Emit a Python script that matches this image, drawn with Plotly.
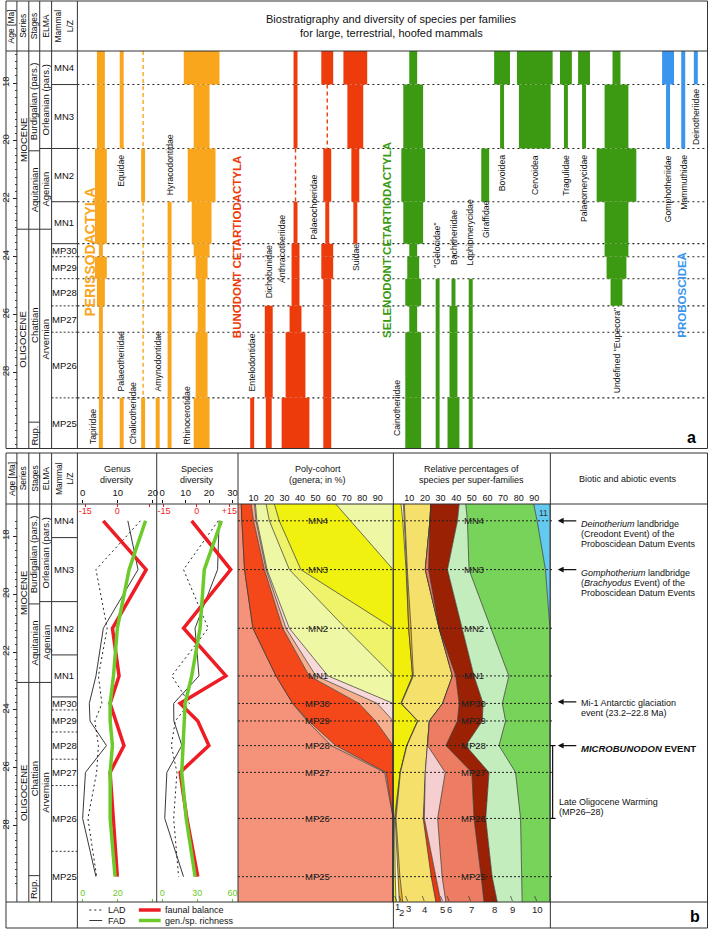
import plotly.graph_objects as go

W, H = 710, 930
FONT = "Liberation Sans, Arial, Helvetica, sans-serif"


def px(x):
    return x / W


def py(y):
    return 1 - y / H


# ------------------------------------------------------------------ data
zones = ["MN4", "MN3", "MN2", "MN1", "MP30", "MP29", "MP28", "MP27", "MP26", "MP25"]
zone_bounds = [16.89, 18.05, 20.26, 22.10, 23.55, 24.00, 24.76, 25.70, 26.61, 28.88, 30.63]
age_ticks = [18, 20, 22, 24, 26, 28]

series_names = ["MIOCENE", "OLIGOCENE"]
series_bounds = [16.89, 23.05, 30.63]
stage_names = ["Burdigalian (pars.)", "Aquitanian", "Chattian", "Rup."]
stage_bounds = [16.89, 20.34, 23.05, 29.72, 30.63]
elma_names = ["Orleanian (pars.)", "Agenian", "Arvernian"]
elma_bounds = [16.89, 20.26, 23.05, 30.63]

# species per family and zone (MN4 ... MP25); 0 = not recorded
tapiridae = [2, 2, 3, 3, 1, 3, 2, 1, 1, 1]
equidae = [1, 1, 0, 0, 0, 0, 0, 0, 0, 0]
palaeotheriidae = [0, 0, 0, 0, 0, 0, 0, 0, 0, 1]
chalicotheriidae = [0, 0, 1, 0, 0, 0, 0, 0, 0, 1]
amynodontidae = [0, 0, 0, 0, 0, 0, 0, 0, 0, 1]
hyracodontidae = [0, 0, 0, 1, 1, 1, 1, 1, 1, 1]
rhinocerotidae = [9, 4, 7, 5, 4, 3, 2, 2, 3, 4]
entelodontidae = [0, 0, 0, 0, 0, 0, 0, 0, 0, 1]
dichobunidae = [0, 0, 0, 0, 0, 0, 0, 2, 2, 1.5]
anthracotheriidae = [1, 1, 0, 1, 2, 2, 2, 3, 5, 7]
palaeochoeridae = [3, 0, 2, 1, 3, 3, 2, 2, 2, 2]
suidae = [6, 4, 2, 1, 0, 0, 0, 0, 0, 0]
cainotheriidae = [2, 5, 6, 5, 2, 3, 4, 2, 4, 4]
gelocidae = [0, 0, 0, 0, 0, 0, 1, 1, 1, 1]
bachitheriidae = [0, 0, 0, 0, 0, 0, 1, 2, 2, 3]
lophiomerycidae = [0, 0, 0, 0, 0, 0, 1, 1, 1, 1]
giraffidae = [0, 0, 2, 0, 0, 0, 0, 0, 0, 0]
bovoidea = [4, 1, 0, 0, 0, 0, 0, 0, 0, 0]
cervoidea = [9, 8, 0, 0, 0, 0, 0, 0, 0, 0]
tragulidae = [3, 1, 0, 0, 0, 0, 0, 0, 0, 0]
palaeomerycidae = [3, 1, 0, 0, 0, 0, 0, 0, 0, 0]
eupecora = [2, 6, 10, 6, 6, 5, 3, 0, 0, 0]
gomphotheriidae = [3, 1, 0, 0, 0, 0, 0, 0, 0, 0]
mammuthidae = [1, 1, 0, 0, 0, 0, 0, 0, 0, 0]
deinotheriidae = [1, 0, 0, 0, 0, 0, 0, 0, 0, 0]

family_names = ["Tapiridae", "Equidae", "Palaeotheriidae", "Chalicotheriidae", "Amynodontidae",
                "Hyracodontidae", "Rhinocerotidae", "Entelodontidae", "Dichobunidae",
                "Anthracotheriidae", "Palaeochoeridae", "Suidae", "Cainotheriidae",
                "\"Gelocidae\"", "Bachitheriidae", "Lophiomerycidae", "Giraffidae", "Bovoidea",
                "Cervoidea", "Tragulidae", "Palaeomerycidae", "Undefined \"Eupecora\"",
                "Gomphotheriidae", "Mammuthidae", "Deinotheriidae"]
family_species = [tapiridae, equidae, palaeotheriidae, chalicotheriidae, amynodontidae,
                  hyracodontidae, rhinocerotidae, entelodontidae, dichobunidae,
                  anthracotheriidae, palaeochoeridae, suidae, cainotheriidae, gelocidae,
                  bachitheriidae, lophiomerycidae, giraffidae, bovoidea, cervoidea, tragulidae,
                  palaeomerycidae, eupecora, gomphotheriidae, mammuthidae, deinotheriidae]
family_group = ["P"] * 7 + ["B"] * 5 + ["S"] * 10 + ["X"] * 3
# range-through (dashed) occurrences: family, first zone, last zone
range_through = [("Chalicotheriidae", "MN4", "MN3"), ("Chalicotheriidae", "MN1", "MP26"),
                 ("Anthracotheriidae", "MN2", "MN2"), ("Palaeochoeridae", "MN3", "MN3")]

group_names = ["PERISSODACTYLA", "BUNODONT CETARTIODACTYLA", "SELENODONT CETARTIODACTYLA", "PROBOSCIDEA"]

# bottom panel: values at zone mid-points (MN4 ... MP25)
genus_lad = [16.5, 3.8, 7.0, 4.5, 5.5, 3.5, 4.5, 4.0, 1.5, 4.0]
genus_fad = [12.9, 15.8, 5.9, 3.8, 1.9, 2.1, 6.8, 0.8, 0.0, 3.8]
genus_balance = [-6.6, 13.5, -2.3, 0.8, -3.4, -0.7, 3.1, -3.4, -1.9, 0.0]
genus_richness = [35.9, 26.5, 19.8, 17.6, 15.7, 15.7, 17.0, 15.7, 15.7, 18.5]
species_lad = [23.9, 9.1, 19.6, 4.1, 11.6, 5.6, 3.9, 6.3, 4.9, 7.0]
species_fad = [24.3, 23.6, 14.0, 15.7, 4.9, 5.0, 8.4, 2.0, 1.1, 9.1]
species_balance = [-2.3, 15.6, -6.0, 13.4, -7.6, 0.5, 5.6, -7.6, -4.5, 0.5]
species_richness = [50.5, 35.9, 32.3, 25.2, 19.6, 19.0, 18.2, 16.7, 20.5, 28.1]

# poly-cohort (genera, %) at: top edge, MN4 ... MP25 mid-points, bottom edge
cohort_old = [2.1, 2.5, 4.2, 9.6, 24.5, 35.2, 44.5, 60.0, 94.5, 100, 100, 100]
cohort_thin = [0, 0, 0, 0, 0, 0, 1.0, 3.0, 0.9, 0, 0, 0]
cohort_red = [6.4, 7.5, 12.8, 19.2, 21.4, 42.8, 43.1, 37.0, 4.6, 0, 0, 0]
cohort_peach = [2.1, 1.6, 1.1, 2.1, 4.3, 11.7, 11.4, 0, 0, 0, 0, 0]
cohort_pink = [0.6, 0.6, 0.6, 2.2, 7.8, 10.3, 0, 0, 0, 0, 0, 0]
cohort_mn1 = [6.9, 8.0, 14.4, 36.3, 42.0, 0, 0, 0, 0, 0, 0, 0]
cohort_mn2 = [5.3, 6.4, 7.4, 30.6, 0, 0, 0, 0, 0, 0, 0, 0]
cohort_mn3 = [39.6, 46.0, 59.5, 0, 0, 0, 0, 0, 0, 0, 0, 0]
cohort_mn4 = [37.0, 27.4, 0, 0, 0, 0, 0, 0, 0, 0, 0, 0]

# relative percentages of species per super-family (bands 1..11), same levels
band1 = [4.7, 5.8, 7.9, 9.6, 12.1, 4.7, 15.3, 8.3, 4.1, 0.5, 1.0, 1.5]
band2 = [1.5, 1.0, 0.4, 0.0, 0.0, 0.0, 0.0, 0.0, 0.0, 0.5, 1.5, 2.1]
band3 = [0.6, 0.5, 0.4, 1.5, 0.5, 0.2, 0.2, 0.2, 0.2, 0.5, 1.5, 2.2]
band4 = [17.0, 15.9, 11.5, 18.0, 25.0, 26.4, 7.3, 13.2, 15.9, 17.4, 20.0, 21.2]
band5 = [0, 0, 0, 0, 0, 0, 0, 0, 0, 0.7, 3.0, 3.2]
band6 = [0, 0, 0, 0, 0, 0, 0, 0, 12.8, 8.5, 4.0, 3.2]
band7 = [0, 0, 2.1, 0, 2.1, 10.6, 18.0, 11.7, 17.0, 23.3, 25.0, 24.4]
band8 = [18.1, 17.6, 12.1, 14.9, 11.7, 15.3, 15.9, 12.7, 11.0, 7.5, 7.0, 8.5]
band9 = [4.2, 6.4, 13.8, 18.0, 22.3, 12.3, 14.9, 21.3, 17.0, 22.3, 18.8, 15.9]
band10 = [43.5, 44.6, 48.9, 38.0, 26.3, 30.5, 28.4, 32.6, 22.0, 18.8, 18.2, 17.8]
band11 = [10.4, 8.2, 2.9, 0, 0, 0, 0, 0, 0, 0, 0, 0]
band_labels = ["1", "2", "3", "4", "5", "6", "7", "8", "9", "10"]

mi1_age = 23.72

# ------------------------------------------------------------------ layout constants
AGE_TOP, AGE_BOT = zone_bounds[0], zone_bounds[-1]
mids = [(zone_bounds[i] + zone_bounds[i + 1]) / 2 for i in range(len(zones))]
levels = [AGE_TOP] + mids + [AGE_BOT]

group_color = {"P": "#F9A61C", "B": "#EE3B0B", "S": "#3C9A12", "X": "#3A95EF"}
group_label_color = ["#F9A61C", "#EE3B0B", "#3C9A12", "#3A95EF"]
group_label_x = [86, 234, 385, 683.3]
group_label_age = [23.85, 23.67, 23.43, 25.33]
group_label_size = [14, 11.5, 11.5, 11.5]

family_x = [96.7, 117.7, 117.7, 139.3, 154, 166, 198.3, 249.3, 266, 293, 325, 353.3, 411.7,
            436.3, 452.3, 469.7, 484.3, 501.3, 534.3, 565.7, 584, 616.7, 668.7, 684, 696.7]
label_x = [89, 116.7, 116.7, 130, 154, 166, 183.3, 249.3, 265.7, 280, 311.7, 353.3, 396,
           435.7, 452.3, 469.3, 485, 501.3, 534.3, 565, 583.3, 616.7, 668.3, 684, 696.7]
label_age = [30.56, 20.42, 28.72, 30.56, 28.72, 21.94, 30.56, 28.72, 25.51, 24.99, 23.5, 24.57,
             30.28, 24.47, 24.36, 24.36, 23.43, 20.42, 20.42, 20.42, 20.42, 28.79, 20.42, 20.42,
             18.14]
label_anchor = ["bottom", "top", "bottom", "bottom", "bottom", "bottom", "bottom", "bottom",
                "bottom", "bottom", "bottom", "bottom", "bottom", "bottom", "bottom", "bottom",
                "bottom", "top", "top", "top", "top", "bottom", "top", "top", "top"]
SPECIES_PX = 4.0

cohort_colors = ["#F4937A", "#F6A88E", "#F4481B", "#F6B08E", "#F7D9D9", "#EEF7A3",
                 "#EEF36A", "#F1F10F", "#EEF7A3"]
band_colors = ["#F2EE0B", "#FBF8D8", "#F5B117", "#F6E06C", "#E83A12", "#F5CFCF",
               "#EC7D62", "#9A2104", "#C4EDBE", "#78D35A", "#62C9F0"]
band_label_x = [395.5, 400, 406.5, 423.3, 441.7, 448.3, 470, 493.3, 512.3, 536.7]
band_label_y = [906, 912, 908, 909, 909, 909, 909, 909, 909, 909]

RED = "#EE1C25"
GREEN = "#6CCB2A"

shapes = []
annotations = []


def line(x0, y0, x1, y1, xref="paper", yref="paper", color="#333", width=1, dash=None, layer="above"):
    d = dict(type="line", xref=xref, yref=yref, x0=x0, y0=y0, x1=x1, y1=y1,
             line=dict(color=color, width=width), layer=layer)
    if dash:
        d["line"]["dash"] = dash
    shapes.append(d)


def text(x, y, s, size=9, color="#111", angle=0, xa="center", ya="middle",
         xref="paper", yref="paper", **kw):
    annotations.append(dict(x=x, y=y, text=s, xref=xref, yref=yref, showarrow=False,
                            textangle=angle, xanchor=xa, yanchor=ya,
                            font=dict(size=size, color=color, family=FONT), **kw))


fig = go.Figure()

# ------------------------------------------------------------------ panel a: bars
for name, sp, xpos, grp in zip(family_names, family_species, family_x, family_group):
    xs, base, length, width = [], [], [], []
    for i, n in enumerate(sp):
        if n > 0:
            xs.append(xpos)
            base.append(zone_bounds[i])
            length.append(zone_bounds[i + 1] - zone_bounds[i])
            width.append(n * SPECIES_PX)
    fig.add_trace(go.Bar(x=xs, y=length, base=base, width=width,
                         marker=dict(color=group_color[grp], line=dict(width=0)),
                         xaxis="x", yaxis="y", showlegend=False, hoverinfo="skip", name=name))

for fam, z0, z1 in range_through:
    k = family_names.index(fam)
    a0 = zone_bounds[zones.index(z0)]
    a1 = zone_bounds[zones.index(z1) + 1]
    fig.add_trace(go.Scatter(x=[family_x[k], family_x[k]], y=[a0, a1], mode="lines",
                             line=dict(color=group_color[family_group[k]], width=1.4, dash="4px,3px"),
                             xaxis="x", yaxis="y", showlegend=False, hoverinfo="skip"))

for name, lx, la, anc in zip(family_names, label_x, label_age, label_anchor):
    text(lx, la, name, size=8.7, color="#111", angle=-90, ya=anc, xref="x", yref="y")

for g, gx, ga, gc, gs in zip(group_names, group_label_x, group_label_age, group_label_color,
                             group_label_size):
    text(gx, ga, "<b>" + g + "</b>", size=gs, color=gc, angle=-90, xref="x", yref="y")

for b in zone_bounds[1:-1]:
    line(73, b, 708.5, b, xref="x", yref="y", color="#222", width=1.1, dash="2px,3px", layer="below")

text(px(390), py(18.5), "Biostratigraphy and diversity of species per families", size=11)
text(px(390), py(33), "for large, terrestrial, hoofed mammals", size=11)
text(px(692), py(437), "<b>a</b>", size=16, color="#000")


# ------------------------------------------------------------------ stratigraphic columns
def strat(yref, head_mid):
    text(px(6.5), py(head_mid), "Age [Ma]", size=8.5, angle=-90)
    text(px(18), py(head_mid), "Series", size=8.5, angle=-90)
    text(px(29.5), py(head_mid), "Stages", size=8.5, angle=-90)
    text(px(41), py(head_mid), "ELMA", size=8.5, angle=-90)
    text(px(60), py(head_mid), "Mammal<br>L/Z", size=8.5, angle=-90)
    for i, nm in enumerate(series_names):
        text(px(18), (series_bounds[i] + series_bounds[i + 1]) / 2, nm, size=9.5, angle=-90, yref=yref)
    for b in series_bounds[1:-1]:
        line(px(12), b, px(24), b, yref=yref)
    for i, nm in enumerate(stage_names):
        text(px(29.5), (stage_bounds[i] + stage_bounds[i + 1]) / 2, nm, size=9.5, angle=-90, yref=yref)
    for b in stage_bounds[1:-1]:
        line(px(24), b, px(35), b, yref=yref)
    for i, nm in enumerate(elma_names):
        text(px(41), (elma_bounds[i] + elma_bounds[i + 1]) / 2, nm, size=9.5, angle=-90, yref=yref)
    for b in elma_bounds[1:-1]:
        line(px(35), b, px(47), b, yref=yref)
    for i, nm in enumerate(zones):
        text(px(60), mids[i], nm, size=9.5, yref=yref)
        if i > 0:
            solid = zones[i - 1].startswith("MN")
            line(px(47), zone_bounds[i], px(73), zone_bounds[i], yref=yref,
                 dash=None if solid else "2px,2px")


strat("y", 26)
strat("y2", 478.5)

# frames panel a
line(px(1), py(1), px(708.5), py(1))
line(px(1), py(448.5), px(708.5), py(448.5))
line(px(1), py(1), px(1), py(448.5))
line(px(708.5), py(1), px(708.5), py(448.5))
line(px(1), py(51), px(708.5), py(51))
for cx in [12, 24, 35, 47, 73]:
    line(px(cx), py(1), px(cx), py(448.5))

# frames panel b
line(px(1), py(453), px(708.5), py(453))
line(px(1), py(928), px(708.5), py(928))
line(px(1), py(453), px(1), py(928))
line(px(708.5), py(453), px(708.5), py(928))
line(px(1), py(504), px(708.5), py(504))
line(px(1), py(902), px(708.5), py(902))
for cx in [12, 24, 35, 47, 153, 235]:
    line(px(cx), py(453), px(cx), py(902))
for cx in [73, 391.7, 550]:
    line(px(cx), py(453), px(cx), py(928))

# ------------------------------------------------------------------ panel b: diversity curves
DOT = "2px,3px"
for ax_b, ax_r, ax_g, lad, fad, bal, ric in [
        ("x2", "x3", "x4", genus_lad, genus_fad, genus_balance, genus_richness),
        ("x5", "x6", "x7", species_lad, species_fad, species_balance, species_richness)]:
    fig.add_trace(go.Scatter(x=lad, y=mids, mode="lines", line=dict(color="#222", width=1, dash=DOT),
                             xaxis=ax_b, yaxis="y2", showlegend=False, hoverinfo="skip"))
    fig.add_trace(go.Scatter(x=fad, y=mids, mode="lines", line=dict(color="#222", width=0.9),
                             xaxis=ax_b, yaxis="y2", showlegend=False, hoverinfo="skip"))
    fig.add_trace(go.Scatter(x=ric, y=mids, mode="lines", line=dict(color=GREEN, width=3.5),
                             xaxis=ax_g, yaxis="y2", showlegend=False, hoverinfo="skip"))
    fig.add_trace(go.Scatter(x=bal, y=mids, mode="lines", line=dict(color=RED, width=3.5),
                             xaxis=ax_r, yaxis="y2", showlegend=False, hoverinfo="skip"))

# poly-cohort
for vals, col in zip([cohort_old, cohort_thin, cohort_red, cohort_peach, cohort_pink,
                      cohort_mn1, cohort_mn2, cohort_mn3, cohort_mn4], cohort_colors):
    fig.add_trace(go.Scatter(x=vals, y=levels, mode="lines", stackgroup="poly", orientation="h",
                             fillcolor=col, line=dict(color="#333", width=0.7),
                             xaxis="x8", yaxis="y2", showlegend=False, hoverinfo="skip"))

# relative percentages
for vals, col in zip([band1, band2, band3, band4, band5, band6, band7, band8, band9, band10, band11],
                     band_colors):
    fig.add_trace(go.Scatter(x=vals, y=levels, mode="lines", stackgroup="rel", orientation="h",
                             fillcolor=col, line=dict(color="#333", width=0.7),
                             xaxis="x9", yaxis="y2", showlegend=False, hoverinfo="skip"))

for i, z in enumerate(zones):
    line(px(235), mids[i], px(553), mids[i], yref="y2", color="#222", width=1, dash="2px,2px")
    text(px(315.5), mids[i], z, size=9.5, color="#222", yref="y2")
    text(px(472.5), mids[i], z, size=9.5, color="#222", yref="y2")
text(px(543.5), py(513), "11", size=8.5, color="#333")

for lab, lx, ly in zip(band_labels, band_label_x, band_label_y):
    text(px(lx), py(ly), lab, size=9.5, color="#222")
    line(px(lx - 2.5), py(896), px(lx - 0.5), py(901), color="#333", width=0.7)

# headers panel b
text(px(113), py(468.5), "Genus", size=9)
text(px(113), py(479.5), "diversity", size=9)
text(px(194), py(468.5), "Species", size=9)
text(px(194), py(479.5), "diversity", size=9)
text(px(315.5), py(468.5), "Poly-cohort", size=9)
text(px(315.5), py(479.5), "(genera; in %)", size=9)
text(px(470.5), py(468.5), "Relative percentages of", size=9)
text(px(470.5), py(479.5), "species per super-families", size=9)
text(px(628), py(479), "Biotic and abiotic events", size=9)

# legend in footer
line(px(85), py(910), px(98), py(910), color="#222", width=1, dash=DOT)
line(px(85), py(920.5), px(98), py(920.5), color="#222", width=0.9)
line(px(135), py(910), px(157), py(910), color=RED, width=3.5)
line(px(135), py(920.5), px(157), py(920.5), color=GREEN, width=3.5)
text(px(102), py(910), "LAD", size=9, xa="left")
text(px(102), py(920.5), "FAD", size=9, xa="left")
text(px(159), py(910), "faunal balance", size=9, xa="left")
text(px(159), py(920.5), "gen./sp. richness", size=9, xa="left")
text(px(696), py(916), "<b>b</b>", size=16, color="#000")

# events
event_ages = [mids[zones.index("MN4")], mids[zones.index("MN3")], mi1_age, mids[zones.index("MP28")]]
event_lines = [["<i>Deinotherium</i> landbridge", "(Creodont Event) of the", "Proboscidean Datum Events"],
               ["<i>Gomphotherium</i> landbridge", "(<i>Brachyodus</i> Event) of the", "Proboscidean Datum Events"],
               ["Mi-1 Antarctic glaciation", "event (23.2\u201322.8 Ma)"],
               ["<b><i>MICROBUNODON</i> EVENT</b>"]]
event_first_offset = [3.6, 3.0, 1.0, 3.0]
for age, lines_, off in zip(event_ages, event_lines, event_first_offset):
    annotations.append(dict(x=px(557.5), y=age, xref="paper", yref="y2", text="", showarrow=True,
                            ax=20, ay=0, arrowhead=2, arrowsize=0.9, arrowwidth=1.3,
                            arrowcolor="#111"))
    for j, s in enumerate(lines_):
        text(px(578.5), age, s, size=9 if j or "MICRO" not in s else 9.5, xa="left",
             yref="y2", yshift=-(off + 10 * j))

warm_top, warm_bot = mids[zones.index("MP28")], mids[zones.index("MP26")]
line(px(552.3), warm_top, px(552.3), warm_bot, yref="y2", color="#111", width=1.2)
line(px(549.5), warm_top, px(555.3), warm_top, yref="y2", color="#111", width=1.2)
line(px(549.5), warm_bot, px(555.3), warm_bot, yref="y2", color="#111", width=1.2)
text(px(557), warm_top, "Late Oligocene Warming", size=9, xa="left", yref="y2", yshift=-56.5)
text(px(557), warm_top, "(MP26\u201328)", size=9, xa="left", yref="y2", yshift=-66.5)


# ------------------------------------------------------------------ axes
def age_axis(domain):
    return dict(domain=domain, range=[AGE_BOT, AGE_TOP], anchor="free", position=px(12),
                side="left", tickmode="array", tickvals=age_ticks, ticks="outside", ticklen=4,
                tickwidth=1, tickcolor="#222", tickangle=-90,
                tickfont=dict(size=9.5, color="#222", family=FONT),
                minor=dict(tickmode="linear", tick0=0, dtick=0.25, ticks="outside", ticklen=2,
                           tickcolor="#444"),
                showgrid=False, zeroline=False, showline=False, fixedrange=True)


def xax(domain, rng, side, tickvals=None, ticktext=None, color="#111", ticks="outside",
        inside=False, overlaying=None, size=9.5):
    d = dict(range=rng, anchor="y2", side=side, showgrid=False, zeroline=False, showline=False,
             ticks=ticks, ticklen=3, tickcolor=color, tickfont=dict(size=size, color=color, family=FONT),
             tickmode="array", tickvals=tickvals, fixedrange=True)
    if ticktext:
        d["ticktext"] = ticktext
    if inside:
        d["ticklabelposition"] = "inside"
    if overlaying:
        d["overlaying"] = overlaying
    else:
        d["domain"] = domain
    return d


gdom = [px(73), px(153)]
sdom = [px(153), px(235)]
layout_axes = dict(
    xaxis=dict(domain=[px(73), px(708.5)], range=[73, 708.5], anchor="y", visible=False,
               fixedrange=True),
    yaxis=age_axis([py(448.5), py(51)]),
    yaxis2=age_axis([py(902), py(504)]),
    xaxis2=xax(gdom, [-1.5, 21.13], "top", [0, 10, 20]),
    xaxis3=xax(None, [-18.7, 18.42], "top", [-15, 0, 15], ["-15", "0", "+15"], color=RED,
               ticks="inside", inside=True, overlaying="x2", size=9),
    xaxis4=xax(None, [-3, 42.26], "bottom", [0, 20, 40], color=GREEN, ticks="inside",
               inside=True, overlaying="x2", size=9),
    xaxis5=xax(sdom, [-2.32, 32.32], "top", [0, 10, 20, 30]),
    xaxis6=xax(None, [-18.32, 18.95], "top", [-15, 0, 15], ["-15", "0", "+15"], color=RED,
               ticks="inside", inside=True, overlaying="x5", size=9),
    xaxis7=xax(None, [-4.64, 64.64], "bottom", [0, 30, 60], color=GREEN, ticks="inside",
               inside=True, overlaying="x5", size=9),
    xaxis8=xax([px(235), px(391.5)], [0, 100], "top", [10, 20, 30, 40, 50, 60, 70, 80, 90], ticks="", size=9),
    xaxis9=xax([px(392), px(549.6)], [0, 100], "top", [10, 20, 30, 40, 50, 60, 70, 80, 90], ticks="", size=9),
)

fig.update_layout(
    width=W, height=H, autosize=False,
    margin=dict(l=0, r=0, t=0, b=0, pad=0),
    paper_bgcolor="white", plot_bgcolor="rgba(0,0,0,0)",
    barmode="overlay", showlegend=False,
    font=dict(family=FONT, size=9, color="#111"),
    shapes=shapes, annotations=annotations,
    **layout_axes,
)

fig.write_html("out.html", config={"displayModeBar": False, "staticPlot": True},
               post_script="document.body.style.margin='0';document.body.style.padding='0';"
                           "document.body.style.overflow='hidden';")
